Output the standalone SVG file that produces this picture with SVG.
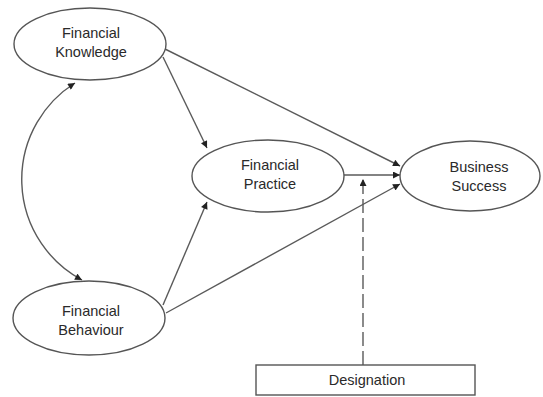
<svg xmlns="http://www.w3.org/2000/svg" width="543" height="397" viewBox="0 0 543 397">
<defs>
<marker id="arr" viewBox="0 0 10 10" refX="10" refY="5" markerWidth="8" markerHeight="7" markerUnits="userSpaceOnUse" orient="auto-start-reverse">
<path d="M0,0 L10,5 L0,10 z" fill="#222"/>
</marker>
<style>
.node ellipse{fill:#fff;stroke:#555;stroke-width:1.4}
.node rect{fill:#fff;stroke:#555;stroke-width:1.4}
.node text{font-family:"Liberation Sans",Arial,sans-serif;font-size:14.5px;fill:#2a2a2a;text-anchor:middle}
.edge{fill:none;stroke:#5a5a5a;stroke-width:1.4}
.dash{stroke-dasharray:14 5}
</style>
</defs>
<rect width="543" height="397" fill="#fff"/>
<g id="connectors">
<path class="edge" d="M75,83 A114,114 0 0 0 82,280" marker-start="url(#arr)" marker-end="url(#arr)"/>
<line class="edge" x1="163" y1="57" x2="207" y2="148" marker-end="url(#arr)"/>
<line class="edge" x1="165" y1="49" x2="400" y2="166" marker-end="url(#arr)"/>
<line class="edge" x1="163" y1="305" x2="207" y2="202" marker-end="url(#arr)"/>
<line class="edge" x1="166" y1="313" x2="400" y2="184" marker-end="url(#arr)"/>
<line class="edge" x1="344" y1="175" x2="400" y2="175" marker-end="url(#arr)"/>
<line class="edge dash" x1="363" y1="365" x2="363" y2="179" marker-end="url(#arr)"/>
</g>
<g id="financial-knowledge" class="node">
<ellipse cx="90" cy="44" rx="76" ry="36"/>
<text x="91" y="38">Financial</text>
<text x="91" y="57">Knowledge</text>
</g>
<g id="financial-practice" class="node">
<ellipse cx="268" cy="176" rx="76" ry="36"/>
<text x="270" y="170">Financial</text>
<text x="270" y="189">Practice</text>
</g>
<g id="business-success" class="node">
<ellipse cx="470" cy="176" rx="70" ry="35"/>
<text x="479" y="172">Business</text>
<text x="479" y="191">Success</text>
</g>
<g id="financial-behaviour" class="node">
<ellipse cx="89" cy="318" rx="76" ry="37"/>
<text x="91" y="316">Financial</text>
<text x="91" y="335">Behaviour</text>
</g>
<g id="designation" class="node">
<rect x="256" y="365" width="219" height="30"/>
<text x="367" y="385">Designation</text>
</g>
</svg>
